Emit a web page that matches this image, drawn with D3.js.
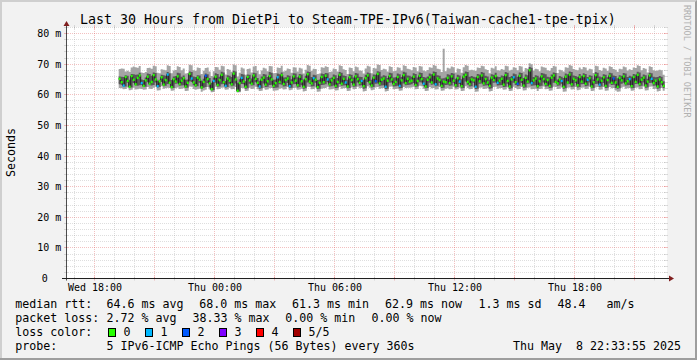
<!DOCTYPE html>
<html><head><meta charset="utf-8">
<script src="https://cdn.jsdelivr.net/npm/d3@7"></script>
<style>
html,body{margin:0;padding:0;background:#f2f2f2}
svg{display:block}
text{font-family:"DejaVu Sans Mono",monospace;fill:#000}
</style></head>
<body><svg id="chart" width="697" height="360"></svg>
<script>
// ---------------- data ----------------
const titleText = "Last 30 Hours from DietPi to Steam-TPE-IPv6(Taiwan-cache1-tpe-tpix)";
const yAxisTitle = "Seconds";
const graphStart = new Date(2025, 4, 7, 16, 33, 55);
const graphEnd = new Date(2025, 4, 8, 22, 33, 55);
const firstSample = new Date(2025, 4, 7, 19, 18, 0);
const stepSeconds = 360;
const yTickValues = [0, 10, 20, 30, 40, 50, 60, 70, 80];
const yTickLabels = ["0", "10 m", "20 m", "30 m", "40 m", "50 m", "60 m", "70 m", "80 m"];
const lossLabels = ["0", "1", "2", "3", "4", "5/5"];
const lossColors = ["#26ff00", "#00b8ff", "#0059ff", "#7e00ff", "#ff0000", "#a10000"];

// median RTT (ms) per 6-minute step
const median = [
65.2,64.1,63.0,65.8,64.5,62.6,66.1,64.9,63.4,65.5,66.3,63.8,62.9,64.7,65.9,63.6,64.2,66.4,65.0,62.8,64.4,
65.7,63.3,64.8,66.6,63.9,62.5,65.1,64.3,66.0,63.5,64.6,65.4,62.7,63.9,66.8,65.3,64.0,63.1,65.6,64.9,62.4,
64.2,66.2,65.1,63.7,61.8,64.5,65.9,63.2,64.8,66.5,64.1,62.9,65.3,64.6,63.4,66.9,65.0,61.3,63.8,65.5,64.3,
62.6,65.8,64.7,63.6,66.3,65.2,63.9,62.7,64.9,65.6,63.3,64.4,66.1,65.0,62.9,63.8,65.7,64.2,66.4,63.5,64.8,
65.3,62.8,64.0,66.0,64.6,63.1,65.9,64.4,62.6,65.1,66.7,64.3,63.7,65.4,64.9,62.5,63.9,65.8,64.1,66.2,65.0,
63.4,64.7,65.5,62.9,64.2,66.5,63.6,65.2,64.0,62.7,65.7,64.8,63.3,66.0,65.1,63.9,64.5,62.8,65.4,66.3,64.1,
63.0,65.6,64.4,66.8,63.7,64.9,65.3,62.6,64.6,66.1,65.0,63.5,64.2,65.8,62.9,64.7,66.4,63.8,65.2,64.3,64.6,
65.9,63.2,64.5,66.2,65.1,63.6,62.7,64.9,65.7,64.0,66.6,63.4,65.3,64.8,62.9,64.3,64.1,65.5,63.8,66.0,64.6,
63.1,65.4,64.3,62.8,65.9,66.5,64.2,63.5,65.0,64.7,62.6,65.8,64.4,66.3,63.7,65.1,64.0,62.9,65.6,64.8,66.1,
63.9,64.6,65.2,63.3,66.4,64.5,62.7,65.0,65.7,64.1,63.6,66.2,64.9,63.0,65.5,64.3,68.0,63.8,64.7,65.3,62.8,
64.4,66.0,65.1,63.5,64.8,62.9,65.6,66.3,64.2,63.7,65.0,64.5,62.6,65.9,64.0,66.6,63.4,65.2,64.7,63.1,65.8,
64.3,66.1,63.6,64.9,65.4,62.7,64.1,66.4,65.0,63.3,64.6,65.7,62.9,64.8,66.2,63.9,65.3,64.0,62.6,65.5,64.7,
66.0,63.7,64.4,65.1,62.8,65.8,64.2,66.5,63.5,64.9,65.6,63.0,64.3,66.3,65.2,63.8,64.6,62.7,65.0,64.1,62.9];

// fastest ping (ms)
const pingMin = [
62.2,62.1,61.8,61.9,62.4,61.5,61.6,62.3,61.7,61.8,62.0,61.9,61.6,61.7,62.5,62.0,61.9,62.3,62.6,61.4,61.5,
62.8,62.0,62.1,62.3,62.2,61.3,61.4,62.1,62.4,61.9,62.0,62.1,61.2,61.3,62.7,62.6,61.9,61.6,61.8,62.0,61.0,
61.4,61.6,62.5,61.7,60.8,60.9,62.6,61.8,61.9,62.3,62.4,61.6,61.7,62.3,61.8,61.9,62.5,60.7,60.8,62.2,62.1,
61.2,61.3,62.3,61.9,62.0,62.6,61.8,61.2,61.3,62.2,61.6,61.7,62.1,62.2,61.3,61.4,61.5,62.0,62.1,61.7,61.8,
62.5,61.5,61.6,62.2,62.3,61.6,61.7,62.0,61.1,61.2,62.6,62.5,61.8,61.9,62.4,61.0,61.1,62.0,62.1,62.2,62.6,
61.7,61.8,62.0,61.4,61.5,62.5,62.0,62.1,62.2,61.2,61.3,62.4,61.8,61.9,62.6,62.1,62.2,61.1,61.2,62.8,62.3,
61.5,61.6,62.4,62.5,62.0,62.1,62.2,61.1,61.2,62.6,62.7,61.8,61.9,62.0,61.3,61.4,62.5,62.2,62.3,62.3,62.4,
62.6,61.8,61.9,62.9,62.8,62.0,61.2,61.3,62.5,62.1,62.2,61.7,61.8,62.5,61.3,61.4,62.0,62.1,61.8,61.9,62.6,
61.7,61.8,62.3,61.2,61.3,62.8,62.2,61.8,61.9,62.4,61.0,61.1,62.3,62.4,61.9,62.0,62.1,61.1,61.2,62.5,62.6,
62.0,62.1,62.2,61.6,61.7,62.4,61.2,61.3,62.6,62.2,61.8,61.9,62.5,61.4,61.5,62.3,62.4,61.8,61.9,62.0,61.2,
61.9,62.0,62.7,61.8,61.9,61.3,61.4,62.6,62.5,61.9,62.0,62.4,61.0,61.1,62.3,62.4,61.7,61.8,62.5,61.5,61.6,
62.3,62.4,61.9,62.0,62.6,61.2,61.3,62.4,62.5,61.6,61.7,62.5,61.3,61.4,62.5,62.1,62.2,61.4,61.0,61.1,62.3,
62.6,62.0,62.1,62.2,61.3,61.4,62.3,62.4,61.8,61.9,62.7,61.4,61.5,62.6,62.7,61.9,62.0,61.1,61.2,62.2,61.3];

// second ping (ms)
const pingLow = [
63.4,63.3,62.6,62.7,63.9,62.3,62.4,63.8,63.0,62.9,63.1,63.2,62.5,62.6,64.1,63.1,63.0,63.2,64.0,62.4,62.5,
64.2,62.8,62.9,63.5,63.4,62.1,62.2,63.6,63.7,62.9,63.0,63.1,62.2,62.3,64.4,64.2,63.1,62.6,62.8,63.9,61.9,
62.3,62.5,63.8,62.4,61.4,61.5,63.9,62.6,62.7,63.4,63.5,62.4,62.5,63.6,62.8,62.9,63.7,61.0,61.1,63.5,63.4,
62.0,62.1,63.6,63.0,63.1,64.1,62.6,62.0,62.1,63.7,62.5,62.6,63.2,63.3,62.2,62.3,62.4,63.4,63.3,62.7,62.8,
63.8,62.2,62.3,63.4,63.5,62.4,62.5,63.1,62.0,62.1,64.0,63.6,62.7,62.8,63.9,61.9,62.0,63.2,63.3,63.4,64.1,
62.7,62.8,63.0,62.2,62.3,63.5,62.9,63.0,63.1,62.1,62.2,63.8,62.6,62.7,64.0,63.0,63.1,62.0,62.1,64.2,63.3,
62.4,62.5,63.6,63.7,62.9,63.0,63.1,61.9,62.0,63.9,64.0,62.7,62.8,62.9,62.1,62.2,63.7,63.1,63.2,63.3,63.4,
63.8,62.6,62.7,64.1,64.0,62.9,62.1,62.2,63.9,63.3,63.4,62.8,62.9,63.8,62.2,62.3,63.2,63.3,62.9,63.0,63.9,
62.4,62.5,63.5,62.1,62.2,64.3,63.3,62.7,62.8,63.9,61.9,62.0,63.6,63.7,62.9,63.0,63.1,62.0,62.1,63.9,64.0,
63.0,63.1,63.2,62.5,62.6,63.6,62.0,62.1,63.9,63.2,62.8,62.9,63.8,62.3,62.4,63.6,63.7,62.9,63.0,63.1,62.1,
62.8,62.9,64.0,62.7,62.8,62.2,62.3,63.9,63.8,62.9,63.0,63.6,62.0,62.1,63.4,63.5,62.6,62.7,63.8,62.4,62.5,
63.4,63.5,62.8,62.9,64.0,62.1,62.2,63.5,63.6,62.6,62.7,63.8,62.2,62.3,63.7,63.2,63.3,62.2,62.0,62.1,63.6,
63.9,63.0,63.1,63.2,62.1,62.2,63.5,63.6,62.8,62.9,64.0,62.3,62.4,63.8,63.9,62.9,63.0,62.0,62.1,63.3,62.2];

// fourth ping (ms)
const pingHigh = [
66.0,65.9,65.8,66.4,66.2,64.9,66.8,66.7,66.5,66.6,67.2,65.0,64.8,65.6,66.9,66.8,66.2,67.3,67.1,64.6,64.9,
66.5,66.4,66.2,67.4,67.0,64.8,66.0,66.1,67.2,67.0,65.9,66.3,64.9,65.0,67.6,67.4,66.0,65.8,66.4,66.3,64.6,
65.2,66.9,66.7,65.5,63.9,65.6,67.0,66.8,65.9,67.5,67.3,64.5,66.4,66.2,65.8,67.8,67.6,63.9,65.1,66.8,66.6,
64.4,66.6,66.5,65.3,67.2,67.0,65.5,64.6,66.0,66.8,66.6,65.8,67.4,67.2,64.9,65.0,66.9,66.7,67.3,65.6,65.7,
66.4,66.2,65.1,67.0,66.9,65.7,66.8,66.6,65.0,66.2,67.6,67.4,65.8,66.5,66.4,64.8,65.0,66.9,66.8,67.1,67.0,
65.4,65.6,66.6,66.4,65.5,67.4,67.2,66.3,66.1,64.9,66.7,66.5,65.6,67.1,66.9,65.9,65.8,64.9,66.5,67.3,67.0,
64.9,66.6,66.5,67.7,67.5,66.0,66.4,66.2,65.5,67.2,67.0,65.6,65.7,66.9,66.7,65.8,67.5,67.3,66.3,66.2,65.9,
67.0,66.8,65.6,67.3,67.1,65.8,65.6,66.0,66.9,66.7,67.6,67.4,66.4,66.2,65.3,65.4,65.6,66.7,66.5,67.1,66.9,
65.2,66.5,66.3,65.1,66.9,67.6,67.4,65.9,66.1,65.9,65.7,66.8,66.6,67.4,67.2,66.2,66.0,64.9,66.7,66.5,67.2,
65.9,65.8,66.3,66.1,67.4,67.2,65.8,66.1,66.9,66.7,65.9,67.3,67.1,65.5,66.6,66.4,69.1,68.8,65.8,66.4,66.2,
65.6,67.1,66.9,66.7,65.9,65.7,66.6,67.3,67.1,65.0,66.1,65.9,65.5,66.9,66.7,67.6,67.4,66.3,66.1,65.9,66.8,
66.2,67.0,66.8,65.8,66.4,66.2,65.0,67.4,67.2,66.0,65.7,66.7,66.5,65.7,67.2,67.0,66.3,66.1,65.4,66.4,66.2,
67.1,66.9,65.8,66.2,66.0,66.8,66.6,67.5,67.3,65.9,66.6,66.4,65.2,67.2,67.0,65.9,65.7,65.8,66.1,65.9,64.4];

// slowest ping (ms)
const pingMax = [
68.4,68.6,68.5,67.6,67.8,67.5,68.9,69.2,69.0,68.8,69.4,67.3,67.1,67.4,68.7,68.8,68.5,69.5,69.3,67.2,67.0,
68.3,68.2,68.0,69.6,69.4,67.0,67.9,68.1,69.3,69.1,68.0,68.6,66.9,67.1,69.8,69.6,68.0,67.8,68.9,68.7,66.8,
67.8,68.7,68.9,67.6,66.1,67.7,69.1,69.0,68.2,69.5,69.3,66.6,68.4,68.2,67.5,69.9,69.6,66.0,67.2,68.9,68.6,
66.5,68.4,68.6,67.3,69.2,69.4,67.8,66.7,67.9,68.8,68.6,67.7,69.4,69.3,67.0,67.1,68.9,68.7,69.5,67.6,67.8,
68.6,68.4,67.2,69.0,68.9,67.6,68.8,68.6,66.9,68.2,69.7,69.5,67.8,68.5,68.4,66.8,66.9,69.0,68.8,69.3,69.1,
67.4,67.6,68.6,68.4,67.6,69.6,69.4,68.3,68.1,66.8,68.9,68.7,67.7,69.2,69.0,67.9,67.8,66.9,68.6,69.5,69.2,
67.0,68.7,68.6,69.9,69.7,68.1,68.5,68.3,67.6,69.3,69.1,67.7,67.8,69.0,68.8,67.9,69.6,69.4,68.5,68.3,68.0,
69.1,68.9,67.7,69.4,69.2,67.9,67.7,68.1,69.0,68.8,69.7,69.5,68.5,68.3,67.4,75.0,67.7,68.8,68.6,69.2,69.0,
67.3,68.6,68.4,67.2,69.0,69.7,69.5,68.0,68.2,68.0,67.8,68.9,68.7,69.5,69.3,68.3,68.1,67.0,68.8,68.6,69.3,
68.0,67.9,68.4,68.2,69.5,69.3,67.9,68.2,69.0,68.8,68.0,69.4,69.2,67.6,68.7,68.5,70.3,70.0,67.9,68.5,68.3,
67.7,69.2,69.0,68.8,68.0,67.8,68.7,69.4,69.2,67.1,68.2,68.0,67.6,69.0,68.8,69.7,69.5,68.4,68.2,68.0,68.9,
68.3,69.1,68.9,67.9,68.5,68.3,67.1,69.5,69.3,68.1,67.8,68.8,68.6,67.8,69.3,69.1,68.4,68.2,67.5,68.5,68.3,
69.2,69.0,67.9,68.3,68.1,68.9,68.7,69.6,69.4,68.0,68.7,68.5,67.3,69.3,69.1,68.0,67.8,67.9,68.2,68.0,66.5];

// lost pings out of 5 per step
const lossCount = [
0,0,1,0,0,0,0,0,0,0,0,1,0,0,0,0,0,0,0,1,0,
0,0,0,1,0,0,0,0,0,0,0,0,0,0,0,1,0,0,0,0,0,
0,2,0,0,0,1,0,0,0,0,0,1,0,0,0,0,0,0,0,1,0,
0,0,0,0,0,0,0,1,0,0,0,0,0,0,0,0,1,0,0,0,0,
0,1,0,0,0,0,0,0,0,0,0,0,0,1,0,0,0,0,0,0,1,
0,0,0,0,0,0,0,0,1,0,0,0,0,0,0,0,1,0,0,0,0,
0,0,2,0,0,0,0,1,0,0,0,0,0,0,1,0,0,0,0,0,0,
0,0,0,0,0,1,0,0,0,0,0,1,0,0,0,0,0,0,0,0,0,
0,0,1,0,0,0,0,0,0,0,1,0,0,0,0,0,0,0,0,0,0,
1,0,0,0,0,0,0,0,1,0,2,0,0,0,0,0,0,1,0,0,0,
0,0,0,0,0,0,0,0,0,0,0,1,0,0,0,0,0,0,0,0,0,
0,0,0,1,0,0,0,0,0,1,0,0,0,0,0,0,2,0,0,0,0,
0,0,0,1,0,0,0,0,0,0,0,0,0,0,1,0,0,0,0,0,0];

const legendRtt = ["median rtt:", "64.6 ms avg", "68.0 ms max", "61.3 ms min", "62.9 ms now", "1.3 ms sd", "48.4", "am/s"];
const legendLoss = ["packet loss:", "2.72 % avg", "38.33 % max", "0.00 % min", "0.00 % now"];
const legendProbe = ["probe:", "5 IPv6-ICMP Echo Pings (56 Bytes) every 360s"];
const stampText = "Thu May  8 22:33:55 2025";

// ---------------- drawing ----------------
const W = 697, H = 360;
const svg = d3.select("#chart");
const X0 = 66, X1 = 666, YB = 278.5, YT = 27;
const x = d3.scaleTime().domain([graphStart, graphEnd]).range([X0, X1]);
const y = d3.scaleLinear().domain([0, 80]).range([YB, 33.5]);
const snap = v => Math.floor(v) + 0.5;

// background + 3d frame
svg.append("rect").attr("width", W).attr("height", H).attr("fill", "#f2f2f2");
svg.append("path").attr("d", `M0,0H${W}V2H2V${H}H0Z`).attr("fill", "#cfcfcf");
svg.append("path").attr("d", `M${W},0V${H}H0V${H-2}H${W-2}V2Z`).attr("fill", "#9e9e9e");

// canvas
svg.append("rect").attr("x", X0).attr("y", YT).attr("width", X1 - X0 + 1).attr("height", 279 - YT).attr("fill", "#fff");

const gGrid = svg.append("g").attr("fill", "none");
const minorCol = "rgba(143,143,143,0.75)", majorCol = "rgba(222,79,79,0.6)";
const yDomainTop = y.invert(YT);
d3.range(2, Math.floor(yDomainTop) + 1, 2).forEach(v => {
  const major = v % 10 === 0;
  const yy = snap(y(v));
  const c = major ? majorCol : minorCol, w = major ? 0.6 : 0.4;
  gGrid.append("line").attr("x1", X0).attr("x2", X1).attr("y1", yy).attr("y2", yy)
    .attr("stroke", c).attr("stroke-width", w).attr("stroke-dasharray", "1,1");
  gGrid.append("line").attr("x1", X0 - 2).attr("x2", X0 + 2).attr("y1", yy).attr("y2", yy).attr("stroke", c).attr("stroke-width", w);
  gGrid.append("line").attr("x1", X1 - 2).attr("x2", X1 + 2).attr("y1", yy).attr("y2", yy).attr("stroke", c).attr("stroke-width", w);
});
x.ticks(d3.timeHour.every(1)).forEach(t => {
  const major = t.getHours() % 3 === 0;
  const xx = snap(x(t));
  const c = major ? majorCol : minorCol, w = major ? 0.6 : 0.4;
  gGrid.append("line").attr("x1", xx).attr("x2", xx).attr("y1", YT).attr("y2", YB)
    .attr("stroke", c).attr("stroke-width", w).attr("stroke-dasharray", "1,1");
  gGrid.append("line").attr("x1", xx).attr("x2", xx).attr("y1", YB - 2).attr("y2", YB + 2).attr("stroke", c).attr("stroke-width", w);
  gGrid.append("line").attr("x1", xx).attr("x2", xx).attr("y1", YT - 2).attr("y2", YT + 2).attr("stroke", c).attr("stroke-width", w);
});

// data
const rows = median.map((m, i) => ({
  t: d3.timeSecond.offset(firstSample, i * stepSeconds),
  t0: d3.timeSecond.offset(firstSample, (i - 1) * stepSeconds),
  med: m, p1: pingMin[i], p2: pingLow[i], p4: pingHigh[i], p5: pingMax[i], loss: lossCount[i]
}));
const stepRows = [{ ...rows[0], t: rows[0].t0 }].concat(rows);

const gData = svg.append("g");
gData.append("path").datum(stepRows).attr("fill", "#a4a4a4")
  .attr("d", d3.area().curve(d3.curveStepBefore).x(d => x(d.t)).y0(d => y(d.p1)).y1(d => y(d.p5)));
gData.append("path").datum(stepRows).attr("fill", "#585858")
  .attr("d", d3.area().curve(d3.curveStepBefore).x(d => x(d.t)).y0(d => y(d.p2)).y1(d => y(d.p4)));
gData.append("path").datum(stepRows).attr("fill", "none").attr("stroke", "#202020").attr("stroke-width", 1)
  .attr("d", d3.line().curve(d3.curveStepBefore).x(d => x(d.t)).y(d => y(d.med)));
gData.selectAll("rect.med").data(rows).join("rect").attr("class", "med")
  .attr("x", d => x(d.t0)).attr("width", d => x(d.t) - x(d.t0))
  .attr("y", d => y(d.med) - 1.2).attr("height", 2.4)
  .attr("fill", d => lossColors[d.loss]);

// axes
svg.append("line").attr("x1", X0 + 0.5).attr("x2", X0 + 0.5).attr("y1", YB + 2).attr("y2", 24)
  .attr("stroke", "#1f1f1f").attr("stroke-width", 0.8);
svg.append("line").attr("x1", X0 - 4).attr("x2", X1 + 4).attr("y1", YB).attr("y2", YB)
  .attr("stroke", "#1f1f1f").attr("stroke-width", 1);
svg.append("path").attr("d", `M${X0 + 0.5},21 L${X0 + 3.5},26 L${X0 - 2.5},26 Z`).attr("fill", "#801f1f");
svg.append("path").attr("d", `M${X1 + 8},${YB} L${X1 + 3},${YB - 3} L${X1 + 3},${YB + 3} Z`).attr("fill", "#801f1f");

// y labels
yTickValues.forEach((v, i) => {
  const t = svg.append("text").attr("y", y(v) + 3.6).attr("font-size", "9.97px").text(yTickLabels[i]);
  if (v === 0) t.attr("x", 41.7); else t.attr("x", 61.2).attr("text-anchor", "end");
});
// x labels
const fmt = d3.timeFormat("%a %H:%M");
x.ticks(d3.timeHour.every(6)).forEach(t => {
  svg.append("text").attr("x", snap(x(t)) + 0.5).attr("y", 290.5).attr("text-anchor", "middle")
    .attr("font-size", "9.97px").text(fmt(t));
});

svg.append("text").attr("x", 80).attr("y", 24).attr("font-size", "13.29px").text(titleText);
svg.append("text").attr("transform", "translate(15,152.5) rotate(-90)").attr("text-anchor", "middle")
  .attr("font-size", "11.63px").text(yAxisTitle);
svg.append("text").attr("transform", "translate(684,5) rotate(90)")
  .attr("font-size", "8.5px").style("fill", "#b0b0b0").text("RRDTOOL / TOBI OETIKER");

// legend
const lf = "11.63px";
const rttX = [15.3, 106.6, 199.3, 292, 385, 478.6, 557.6, 606.6];
legendRtt.forEach((s, i) => svg.append("text").attr("x", rttX[i]).attr("y", 308).attr("font-size", lf).text(s));
const lossX = [15.3, 106.6, 192.6, 285.3, 371.6];
legendLoss.forEach((s, i) => svg.append("text").attr("x", lossX[i]).attr("y", 322).attr("font-size", lf).text(s));
svg.append("text").attr("x", 15.3).attr("y", 336).attr("font-size", lf).text("loss color:");
const boxX = [108.5, 145.5, 182.5, 219.5, 256.5, 293.5];
lossLabels.forEach((s, i) => {
  svg.append("rect").attr("x", boxX[i]).attr("y", 328.5).attr("width", 7).attr("height", 8)
    .attr("fill", lossColors[i]).attr("stroke", "#000").attr("stroke-width", 1);
  svg.append("text").attr("x", boxX[i] + 15).attr("y", 336).attr("font-size", lf).text(s);
});
svg.append("text").attr("x", 15.3).attr("y", 350).attr("font-size", lf).text(legendProbe[0]);
svg.append("text").attr("x", 106.6).attr("y", 350).attr("font-size", lf).text(legendProbe[1]);
svg.append("text").attr("x", 681).attr("y", 350).attr("font-size", lf).attr("text-anchor", "end")
  .style("white-space", "pre").text(stampText);
</script></body></html>
